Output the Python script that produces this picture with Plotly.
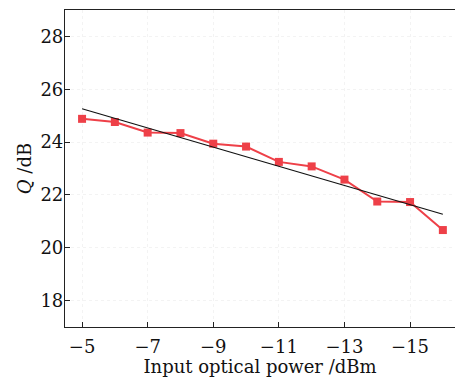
import numpy as np
import plotly.graph_objects as go

power = [-5, -6, -7, -8, -9, -10, -11, -12, -13, -14, -15, -16]
q_db = [24.88, 24.76, 24.36, 24.34, 23.94, 23.83, 23.25, 23.08, 22.58, 21.75, 21.73, 20.67]
x_ticks = [-5, -7, -9, -11, -13, -15]
y_ticks = [18, 20, 22, 24, 26, 28]

coef = np.polyfit(power, q_db, 1)
fit_x = [power[0], power[-1]]
fit_y = list(np.polyval(coef, fit_x))

font = "DejaVu Serif"
fig = go.Figure()
fig.add_trace(go.Scatter(x=power, y=q_db, mode="lines+markers",
                         line=dict(color="#EE4048", width=2),
                         marker=dict(symbol="square", size=8, color="#EE4048"),
                         showlegend=False))
fig.add_trace(go.Scatter(x=fit_x, y=fit_y, mode="lines",
                         line=dict(color="#111111", width=1.2),
                         showlegend=False))

fig.update_layout(
    width=455, height=377,
    margin=dict(l=65, r=0, t=10, b=50),
    paper_bgcolor="white", plot_bgcolor="white",
    font=dict(family=font, size=18, color="#111111"),
    xaxis=dict(range=[-4.48, -16.37], tickvals=x_ticks,
               ticktext=["\u2212" + str(abs(v)) for v in x_ticks],
               ticks="inside", ticklen=5, tickcolor="#222", tickwidth=1,
               ticklabelstandoff=3,
               showline=True, linecolor="#222", linewidth=1.2, mirror=True,
               showgrid=True, gridcolor="#f3f3f3", griddash="dot", gridwidth=1,
               zeroline=False,
               title=dict(text="Input optical power /dBm", standoff=0,
                          font=dict(size=18))),
    yaxis=dict(range=[17, 29], tickvals=y_ticks,
               ticks="inside", ticklen=5, tickcolor="#222", tickwidth=1,
               ticklabelstandoff=-3,
               showline=True, linecolor="#222", linewidth=1.2,
               showgrid=True, gridcolor="#f3f3f3", griddash="dot", gridwidth=1,
               zeroline=False,
               title=dict(text="<i>Q</i> /dB", standoff=4,
                          font=dict(size=18))),
)
fig.write_html("out.html")
